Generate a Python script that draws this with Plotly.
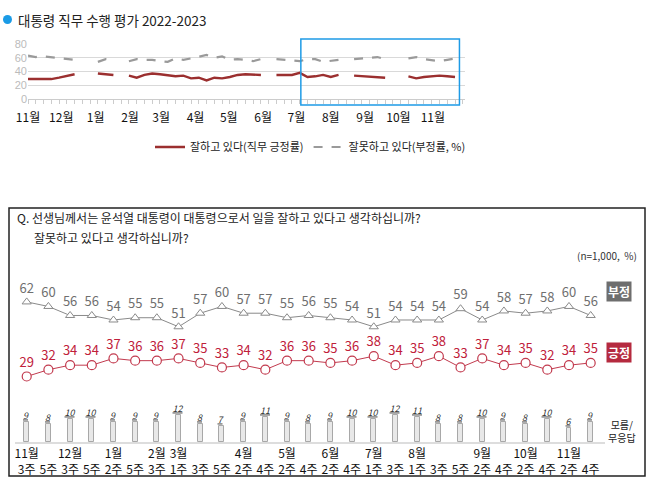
import plotly.graph_objects as go
import pandas as pd

W, H = 655, 491
FONT = "Noto Sans CJK KR"

# --- top chart: weekly job approval (None = no survey that week)
weeks = pd.date_range("2022-11-01", periods=56, freq="7D")
approve = [29, 29, 28, 29, 31, 33, 36, None, None, 37, 36, 35, None,
           34, 31, 35, 37, 36, 35, 33, 34, 30, 31, 27, 31, 30, 32, 35, 36,
           36, 35, None, 35, 35, 35, 38, 32, 33, 35, 32, 35, None,
           34, 33, 33, 32, 31, None, None, 33, 30, 32, 33, 34, 33, 32]
disapprove = [63, 61, 62, 61, 60, 59, 57, None, None, 54, 58, 56, None,
              55, 58, 57, 57, 55, 54, 59, 57, 59, 61, 64, 60, 62, 57, 58, 57,
              55, 58, None, 58, 57, 56, 55, 58, 58, 54, 56, 57, None,
              58, 59, 60, 61, 58, None, None, 59, 61, 58, 57, 55, 57, 59]
month_ticks = pd.date_range("2022-11-01", "2023-11-01", freq="MS")
month_labels = ["11월", "12월", "1월", "2월", "3월", "4월", "5월", "6월",
                "7월", "8월", "9월", "10월", "11월"]

# --- bottom chart: biweekly survey
week_labels = ["11월<br>3주", " <br>5주", "12월<br>3주", " <br>5주", "1월<br>2주", " <br>5주",
               "2월<br>3주", "3월<br>1주", " <br>3주", " <br>5주", "4월<br>2주", " <br>4주",
               "5월<br>2주", " <br>4주", "6월<br>2주", " <br>4주", "7월<br>1주", " <br>3주",
               "8월<br>1주", " <br>3주", " <br>5주", "9월<br>2주", " <br>4주", "10월<br>2주",
               " <br>4주", "11월<br>2주", " <br>4주"]
negative = [62, 60, 56, 56, 54, 55, 55, 51, 57, 60, 57, 57, 55, 56, 55, 54, 51,
            54, 54, 54, 59, 54, 58, 57, 58, 60, 56]
positive = [29, 32, 34, 34, 37, 36, 36, 37, 35, 33, 34, 32, 36, 36, 35, 36, 38,
            34, 35, 38, 33, 37, 34, 35, 32, 34, 35]
dont_know = [9, 8, 10, 10, 9, 9, 9, 12, 8, 7, 9, 11, 9, 8, 9, 10, 10, 12, 11,
             8, 8, 10, 9, 8, 10, 6, 9]
idx = list(range(len(week_labels)))


def px(x):
    return x / W


def py(y):
    return 1 - y / H


fig = go.Figure()

fig.add_trace(go.Scatter(x=weeks, y=approve, mode="lines", name="잘하고 있다(직무 긍정률)",
                         line=dict(color="#9b2f2f", width=2.4)))
fig.add_trace(go.Scatter(x=weeks, y=disapprove, mode="lines", name="잘못하고 있다(부정률, %)",
                         line=dict(color="#9a9a9a", width=2.2, dash="dash")))

# bottom chart
fig.add_trace(go.Bar(x=idx, y=dont_know, xaxis="x2", yaxis="y2", width=0.23,
                     marker=dict(color="#e8e8e8", line=dict(color="#a8a8a8", width=1)),
                     text=[f"<u><i>{v}</i></u>" for v in dont_know], textposition="outside",
                     constraintext="none", textfont=dict(size=9, color="#333"),
                     cliponaxis=False, showlegend=False))
fig.add_trace(go.Scatter(x=idx, y=negative, xaxis="x2", yaxis="y2", mode="lines+markers+text",
                         line=dict(color="#8a8a8a", width=1),
                         marker=dict(symbol="triangle-up", size=8, color="white",
                                     line=dict(color="#8a8a8a", width=1)),
                         text=negative, textposition="top center",
                         textfont=dict(size=13, color="#6f6f6f"), cliponaxis=False, showlegend=False))
fig.add_trace(go.Scatter(x=idx, y=positive, xaxis="x2", yaxis="y2", mode="lines+markers+text",
                         line=dict(color="#c23a4e", width=1),
                         marker=dict(symbol="circle", size=9, color="white",
                                     line=dict(color="#c23a4e", width=1.2)),
                         text=positive, textposition="top center",
                         textfont=dict(size=13, color="#c0203a"), cliponaxis=False, showlegend=False))

fig.update_layout(
    width=W, height=H,
    margin=dict(l=0, r=0, t=0, b=0),
    paper_bgcolor="white", plot_bgcolor="white",
    font=dict(family=FONT, color="#222"),
    xaxis=dict(type="date", domain=[px(28), px(465)], range=["2022-11-01", "2023-11-30"],
               tickvals=month_ticks, ticktext=month_labels, tickfont=dict(size=12, color="#111"),
               ticks="", ticklabelstandoff=8, tickangle=0, automargin=False,
               showgrid=False, zeroline=False, showline=True, linecolor="#cccccc",
               minor=dict(ticks="outside", ticklen=4, tickcolor="#cccccc",
                          dtick=7 * 86400000, tick0="2022-11-01", showgrid=False)),
    yaxis=dict(domain=[py(99), py(44)], range=[0, 80], tickvals=[0, 20, 40, 60, 80],
               tickfont=dict(size=11, color="#bbbbbb", family="Liberation Sans"),
               gridcolor="#d9d9d9", zeroline=False, showline=False, automargin=False),
    xaxis2=dict(domain=[px(15), px(605)], range=[-0.54, 26.66], anchor="y2",
                tickvals=idx, ticktext=week_labels, tickfont=dict(size=12, color="#111"),
                ticks="", tickangle=0, automargin=False, showgrid=False, zeroline=False,
                showline=True, linecolor="#dddddd", linewidth=2),
    yaxis2=dict(domain=[py(442), py(280)], range=[0, 71.7], visible=False),
    legend=dict(orientation="h", x=px(150), xanchor="left", y=py(147), yanchor="middle",
                font=dict(size=11, color="#222"), itemwidth=30, bgcolor="rgba(0,0,0,0)"),
    bargap=0,
)

shapes = [
    dict(type="circle", xref="paper", yref="paper", x0=px(3), x1=px(12), y0=py(24), y1=py(15),
         fillcolor="#1a9be6", line=dict(width=0)),
    dict(type="rect", xref="x", yref="paper", x0="2023-07-05", x1="2023-11-25",
         y0=py(105), y1=py(39), line=dict(color="#1e9be6", width=1.5)),
    dict(type="rect", xref="paper", yref="paper", x0=px(9), x1=px(645), y0=py(476), y1=py(208),
         line=dict(color="#222", width=1.5)),
]
fig.update_layout(shapes=shapes)

annotations = [
    dict(text="대통령 직무 수행 평가 2022-2023", x=px(16), y=py(20), xanchor="left", yanchor="middle",
         font=dict(size=13.5, color="#222")),
    dict(text="Q. 선생님께서는 윤석열 대통령이 대통령으로서 일을 잘하고 있다고 생각하십니까?",
         x=px(15), y=py(218), xanchor="left", yanchor="middle", font=dict(size=12, color="#222")),
    dict(text="잘못하고 있다고 생각하십니까?", x=px(32), y=py(237), xanchor="left", yanchor="middle",
         font=dict(size=12, color="#222")),
    dict(text="(n=1,000,  %)", x=px(639), y=py(255), xanchor="right", yanchor="middle",
         font=dict(size=10, color="#333")),
    dict(text="<b>부정</b>", x=px(619), y=py(291), xanchor="center", yanchor="middle",
         bgcolor="#6e6e6e", borderpad=1, font=dict(size=12, color="white")),
    dict(text="<b>긍정</b>", x=px(619), y=py(352), xanchor="center", yanchor="middle",
         bgcolor="#b52a3f", borderpad=1, font=dict(size=12, color="white")),
    dict(text="모름/<br>무응답", x=px(622), y=py(431), xanchor="center", yanchor="middle",
         font=dict(size=10, color="#222")),
]
for a in annotations:
    a.update(xref="paper", yref="paper", showarrow=False)
fig.update_layout(annotations=annotations)

fig.write_html("out.html", config={"displayModeBar": False},
               post_script="document.body.style.margin='0px';")
